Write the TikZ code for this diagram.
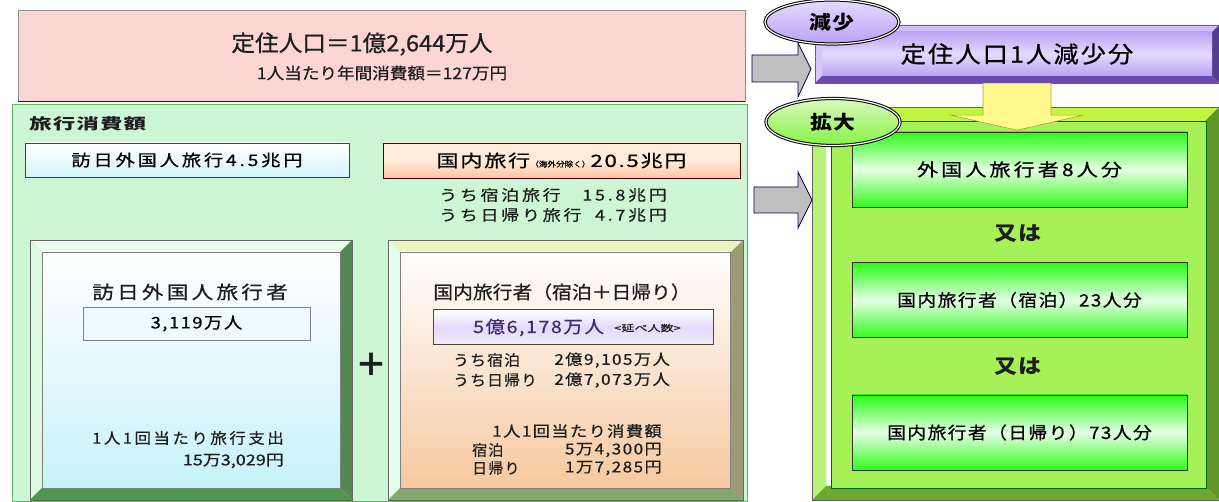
\documentclass[tikz,border=0pt]{standalone}
\usepackage{fontspec}
\usepackage{graphicx}
\setmainfont{Noto Sans CJK JP}
\newfontfamily\lsA[LetterSpace=15,FakeBold=0.6]{Noto Sans CJK JP}
\newfontfamily\lsM[LetterSpace=8,FakeBold=0.6]{Noto Sans CJK JP}
\newfontfamily\lsB[LetterSpace=0,FakeBold=0.6]{Noto Sans CJK JP}
\newfontfamily\lsBold[LetterSpace=5]{Noto Sans CJK JP}
\usetikzlibrary{calc,shapes.geometric}
\newcommand{\myfs}[1]{\fontsize{#1}{#1}\selectfont}
\newcommand{\hw}[2]{\scalebox{#1}[1]{#2}}
% bevel frame: x1 y1 x2 y2 w top left right bottom
\newcommand{\bevelframe}[9]{%
  \fill[#6] (#1,#2) -- (#3,#2) -- (#3-#5,#2+#5) -- (#1+#5,#2+#5) -- cycle;
  \fill[#7] (#1,#2) -- (#1+#5,#2+#5) -- (#1+#5,#4-#5) -- (#1,#4) -- cycle;
  \fill[#8] (#3,#2) -- (#3,#4) -- (#3-#5,#4-#5) -- (#3-#5,#2+#5) -- cycle;
  \fill[#9] (#1,#4) -- (#3,#4) -- (#3-#5,#4-#5) -- (#1+#5,#4-#5) -- cycle;
  \draw[black!60, line width=0.6pt] (#1,#2) rectangle (#3,#4);
}
\definecolor{pinkbg}{HTML}{FCD6D2}
\definecolor{greenbg}{HTML}{CDF7D4}
\definecolor{greenline}{HTML}{5CB85C}
\definecolor{lime}{HTML}{A6F058}
\definecolor{darkgreen}{HTML}{5E9628}
\definecolor{peach}{HTML}{F6C9A0}
\definecolor{lcyan}{HTML}{C8F2FA}
\definecolor{lav}{HTML}{B9A3F2}
\definecolor{lavlight}{HTML}{E4DAFF}
\definecolor{lavdark}{HTML}{6A4CB0}
\definecolor{txtc}{HTML}{1E1E1E}
\begin{document}
\begin{tikzpicture}[x=1pt,y=-1pt,
  txt/.style={inner sep=0pt, text=txtc},
  plainbox/.style={draw=black!75, line width=0.8pt, inner sep=0pt},
  greenbox/.style={draw=black!80, line width=0.9pt, inner sep=0pt,
     minimum width=335pt, minimum height=75pt,
     top color=green!75!lime, bottom color=green!70!lime, middle color=white!90!green},
  blockarrow/.style={fill=black!25, draw=black!70!blue, line width=0.8pt},
]
\useasboundingbox (0,0) rectangle (1219,502);
\fill[white] (0,0) rectangle (1219,502);

% ---------- top pink box ----------
\node[inner sep=0pt, minimum width=727pt, minimum height=91pt, fill=pinkbg,
      draw=black!45] (pinkbox) at (381.5,56) {};
\draw[line width=1.2pt, black!50!red!60!black] (pinkbox.south west) -- (pinkbox.south east);
\node[txt] (title) at (362,44) {\lsB\myfs{22.5}\hw{1.05}{定住人口＝1億2,644万人}};
\node[txt] (sub) at (382,73) {\lsB\myfs{16}\hw{1.1}{1人当たり年間消費額＝127万円}};

% ---------- big green box ----------
\node[inner sep=0pt, minimum width=735pt, minimum height=397pt, fill=greenbg,
      draw=greenline, line width=1pt] (greenbox) at (379.5,303.5) {};
\node[txt, anchor=west] (ryokou) at (29,124) {\lsBold\bfseries\myfs{15}\hw{1.5}{旅行消費額}};

\node[plainbox, minimum width=324pt, minimum height=34pt,
      top color=white, bottom color=lcyan!80] (boxA) at (187,160)
      {\lsA\myfs{16}\hw{1.2}{訪日外国人旅行4.5兆円}};
\node[plainbox, draw=black!50!red!60!black, minimum width=357pt, minimum height=35pt,
      top color=white!85!orange, bottom color=red!30!orange!35, middle color=white!85!orange] (boxB) at (561.5,160.5)
      {\lsM\myfs{17}\hw{1.3}{国内旅行}\hw{1.15}{\lsB\myfs{7.5}（海外分除く）}\hw{1.3}{20.5兆円}};

\node[txt, anchor=west] (shuku1) at (439,195) {\lsA\myfs{15}\hw{1.2}{うち宿泊旅行}};
\node[txt, anchor=east] (shuku1v) at (667,195) {\lsA\myfs{15}\hw{1.2}{15.8兆円}};
\node[txt, anchor=west] (higae1) at (439,215) {\lsA\myfs{15}\hw{1.2}{うち日帰り旅行}};
\node[txt, anchor=east] (higae1v) at (667,215) {\lsA\myfs{15}\hw{1.2}{4.7兆円}};

% ---------- left panel ----------
\bevelframe{30}{240}{352}{500}{12}{white!60!greenbg}{white!30!greenbg}{black!40!green!35!gray}{black!25!green!40!gray}
\node[inner sep=0pt, minimum width=298pt, minimum height=236pt,
      top color=white, bottom color=lcyan, draw=black!50] (lpanel) at (191,370) {};
\node[txt] (hounichi) at (190,292) {\lsA\myfs{18}\hw{1.2}{訪日外国人旅行者}};
\node[plainbox, draw=black!50, line width=0.6pt, minimum width=227pt, minimum height=33pt,
      fill=lcyan!30] (cnt1) at (196.5,323.5) {\lsM\myfs{16}\hw{1.15}{3,119万人}};
\node[txt, anchor=east] (sp1) at (284,438) {\lsA\myfs{15}\hw{1.1}{1人1回当たり旅行支出}};
\node[txt, anchor=east] (sp2) at (284,461) {\lsB\myfs{15}\hw{1.2}{15万3,029円}};

\node[txt] (plus) at (371,365) {\myfs{32}\bfseries ＋};

% ---------- right panel ----------
\bevelframe{388}{240}{743}{500}{12}{white!70!yellow!60!greenbg}{white!50!greenbg}{black!35!yellow!40!gray}{black!20!yellow!40!green!50!gray}
\node[inner sep=0pt, minimum width=330pt, minimum height=236pt,
      top color=white, bottom color=peach, draw=black!50] (rpanel) at (565,370) {};
\node[txt] (kokunai) at (562,292) {\lsB\myfs{18}\hw{1.1}{国内旅行者（宿泊＋日帰り）}};
\node[plainbox, draw=black!60!olive, line width=1pt, minimum width=280pt, minimum height=35pt,
      top color=white, bottom color=white!92!violet, middle color=lavlight] (cnt2) at (573,327.5) {};
\node[txt, anchor=west] (cnt2a) at (473,327.5) {\lsM\myfs{17}\hw{1.15}{\textcolor{lavdark!60!black}{5億6,178万人}}};
\node[txt, anchor=west] (cnt2b) at (614,328) {\lsB\myfs{9}\hw{1.45}{<延べ人数>}};
\node[txt, anchor=west] (u1a) at (453,360) {\lsM\myfs{15}\hw{1.05}{うち宿泊}};
\node[txt, anchor=east] (u1b) at (670,360) {\lsM\myfs{15}\hw{1.15}{2億9,105万人}};
\node[txt, anchor=west] (u2a) at (453,380) {\lsM\myfs{15}\hw{1.05}{うち日帰り}};
\node[txt, anchor=east] (u2b) at (670,380) {\lsM\myfs{15}\hw{1.15}{2億7,073万人}};
\node[txt, anchor=east] (c1) at (662,431) {\lsM\myfs{15}\hw{1.15}{1人1回当たり消費額}};
\node[txt, anchor=west] (c2a) at (472,450) {\lsM\myfs{15}\hw{1.0}{宿泊}};
\node[txt, anchor=east] (c2b) at (662,450) {\lsM\myfs{15}\hw{1.15}{5万4,300円}};
\node[txt, anchor=west] (c3a) at (472,468) {\lsM\myfs{15}\hw{1.0}{日帰り}};
\node[txt, anchor=east] (c3b) at (662,468) {\lsM\myfs{15}\hw{1.15}{1万7,285円}};

% ---------- right side ----------
\bevelframe{812}{107}{1219}{500}{14}{lime!70!yellow}{lime!80!white}{darkgreen}{darkgreen!80!lime}
\node[inner sep=0pt, minimum width=375pt, minimum height=367pt, fill=lime,
      draw=black!60!green, line width=0.8pt] (rbox) at (1018.5,304.5) {};

\node[greenbox] (opt1) at (1019.5,169.5) {\lsA\myfs{17.5}\hw{1.2}{外国人旅行者8人分}};
\node[txt] (mata1) at (1018,234) {\lsBold\bfseries\myfs{20}\hw{1.15}{又は}};
\node[greenbox] (opt2) at (1019.5,300) {\lsM\myfs{17}\hw{1.1}{国内旅行者（宿泊）23人分}};
\node[txt] (mata2) at (1018,367) {\lsBold\bfseries\myfs{20}\hw{1.15}{又は}};
\node[greenbox] (opt3) at (1019.5,432.5) {\lsM\myfs{17}\hw{1.1}{国内旅行者（日帰り）73人分}};

% purple box
\bevelframe{815}{25}{1219}{83}{7}{lav!70!white}{lav!60!white}{lavdark!80!black}{lavdark}
\node[inner sep=0pt, minimum width=390pt, minimum height=44pt,
      top color=lav, bottom color=lav, middle color=lavlight] (purple) at (1017,54)
      {\lsM\myfs{23}\hw{1.1}{定住人口1人減少分}};

% yellow arrow from purple box down into green box
\coordinate (ytip) at ($(purple.south)+(0,54)$);
\filldraw[fill=yellow!45, draw=yellow!60!black, line width=0.6pt]
  ($(purple.south)+(-34,7)$) -- ($(purple.south)+(34,7)$) -- ($(purple.south)+(34,39)$)
  -- ($(purple.south)+(66,39)$) -- (ytip) -- ($(purple.south)+(-66,39)$)
  -- ($(purple.south)+(-34,39)$) -- cycle;

% gray block arrows
\filldraw[blockarrow] (752,55) -- (798,55) -- (798,43) -- (811,69) -- (798,97) -- (798,82) -- (752,82) -- cycle;
\filldraw[blockarrow] (754,187) -- (798,187) -- (798,172) -- (812,200) -- (798,228) -- (798,213) -- (754,213) -- cycle;

% ellipses
\node[ellipse, inner sep=0pt, minimum width=134pt, minimum height=44pt, draw=black, line width=1pt,
      double=white, double distance=1.2pt, top color=lavlight, bottom color=lav] (genshou) at (832,22)
      {\lsBold\bfseries\myfs{19}\hw{1.15}{減少}};
\node[ellipse, inner sep=0pt, minimum width=134pt, minimum height=47pt, draw=black, line width=1pt,
      double=white, double distance=1.2pt, top color=lime!40!white, bottom color=lime!80!green] (kakudai) at (833,122)
      {\lsBold\bfseries\myfs{19}\hw{1.15}{拡大}};
\end{tikzpicture}
\end{document}
